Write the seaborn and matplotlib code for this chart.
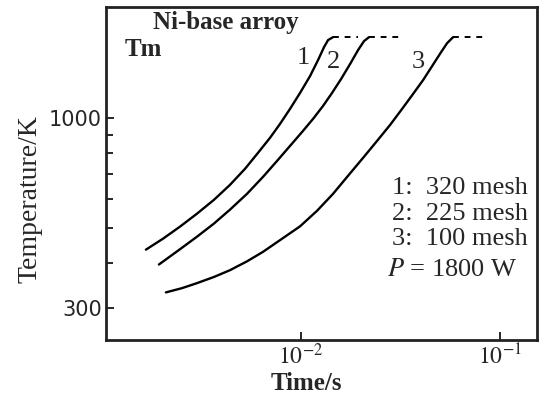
import numpy as np
import pandas as pd
import matplotlib
matplotlib.use("Agg")
import matplotlib.pyplot as plt
import seaborn as sns
from matplotlib.ticker import FixedLocator, NullFormatter, NullLocator

# Heating curves (time in s, temperature in K)
time_320 = [0.001664, 0.002025, 0.002466, 0.003002, 0.003654, 0.004396, 0.005232, 0.006080,
            0.006987, 0.007843, 0.008806, 0.009885, 0.01110, 0.01217, 0.01305, 0.01367, 0.01448]
temp_320 = [435, 466, 503, 546, 596, 655, 725, 802, 882, 963, 1059, 1171, 1303, 1441, 1565, 1636, 1667]

time_225 = [0.001934, 0.002409, 0.003002, 0.003654, 0.004396, 0.005354, 0.006442, 0.007576, 0.008806,
            0.01012, 0.01149, 0.01290, 0.01431, 0.01589, 0.01763, 0.01934, 0.02073, 0.02196]
temp_225 = [396, 432, 472, 513, 560, 619, 689, 762, 838, 915, 994, 1079, 1171, 1279, 1406, 1536, 1626, 1667]

time_100 = [0.002097, 0.002523, 0.003002, 0.003654, 0.004396, 0.005354, 0.006442, 0.008027, 0.009885,
            0.01203, 0.01448, 0.01723, 0.02049, 0.02409, 0.02801, 0.03218, 0.03654, 0.04104, 0.04553,
            0.05051, 0.05417, 0.05806]
temp_100 = [332, 341, 352, 366, 382, 404, 429, 466, 504, 556, 619, 694, 777, 865, 957, 1059, 1164,
            1271, 1388, 1516, 1605, 1667]

# melting plateau (dashed continuation)
melt_start = [0.01448, 0.02196, 0.05806]
melt_end = [0.01934, 0.03256, 0.08214]
t_melt = 1667

curve_labels = ["1", "2", "3"]
mesh_sizes = [320, 225, 100]

sns.set_style("ticks")
plt.rcParams['font.family'] = ['Liberation Serif', 'DejaVu Serif']
plt.rcParams['mathtext.fontset'] = 'stix'

fig = plt.figure(figsize=(5.44, 3.97), dpi=100)
ax = fig.add_axes([0.195, 0.144, 0.792, 0.838])

curves = [(time_320, temp_320), (time_225, temp_225), (time_100, temp_100)]
for t, T in curves:
    df = pd.DataFrame({"time": t, "temp": T})
    sns.lineplot(data=df, x="time", y="temp", ax=ax, color="black", lw=1.7,
                 sort=False, estimator=None)

for t0, t1 in zip(melt_start, melt_end):
    df = pd.DataFrame({"time": [t0, t1], "temp": [t_melt, t_melt]})
    sns.lineplot(data=df, x="time", y="temp", ax=ax, color="black", lw=1.4,
                 linestyle=(0, (3, 3)), estimator=None)

ax.set_xscale("log")
ax.set_yscale("log")
ax.set_xlim(1.05e-3, 0.153)
ax.set_ylim(246, 2015)

ax.xaxis.set_major_locator(FixedLocator([1e-2, 1e-1]))
ax.xaxis.set_minor_locator(NullLocator())
ax.set_xticklabels([r"$10^{-2}$", r"$10^{-1}$"], fontsize=17)
ax.yaxis.set_major_locator(FixedLocator([300, 1000]))
ax.yaxis.set_minor_locator(FixedLocator([400, 500, 600, 700, 800, 900]))
ax.yaxis.set_minor_formatter(NullFormatter())
ax.set_yticklabels(["300", "1000"], fontsize=15, family="DejaVu Sans")
ax.tick_params(which="both", direction="in", width=1.4, pad=3)
ax.tick_params(which="major", length=6)
ax.tick_params(which="minor", length=5)
for s in ax.spines.values():
    s.set_linewidth(2)
    s.set_color("#222222")

ax.set_xlabel("Time/s", fontsize=18, fontweight="bold")
ax.xaxis.set_label_coords(0.464, -0.097)
ax.set_ylabel("Temperature/K", fontsize=20)
ax.yaxis.set_label_coords(-0.148, 0.423)

ax.text(0.109, 0.955, "Ni-base arroy", transform=ax.transAxes, fontsize=18,
        fontweight="bold", va="center")
ax.text(0.044, 0.874, "Tm", transform=ax.transAxes, fontsize=18,
        fontweight="bold", va="center")

label_pos = [(0.01023, 1460), (0.01448, 1423), (0.03873, 1423)]
for lab, (x, y) in zip(curve_labels, label_pos):
    ax.text(x, y, lab, fontsize=19, va="center", ha="center")

for i, (lab, mesh) in enumerate(zip(curve_labels, mesh_sizes)):
    ax.text(0.979, 0.456 - i * 0.077, f"{lab}:  {mesh} mesh", transform=ax.transAxes,
            fontsize=19, ha="right", va="center")
ax.text(0.954, 0.21, r"$P$ = 1800 W", transform=ax.transAxes, fontsize=19,
        ha="right", va="center")

fig.savefig("out.png", dpi=100)
